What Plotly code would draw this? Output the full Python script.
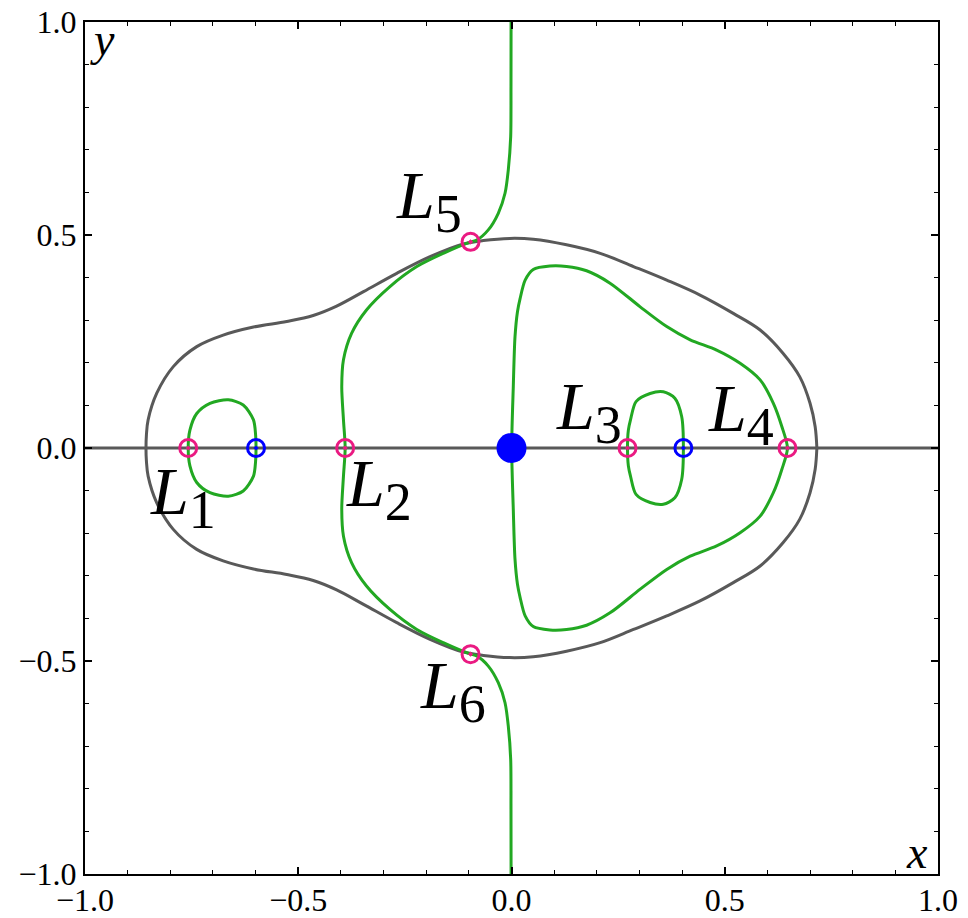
import plotly.graph_objects as go

# ---- data ----
# outer gray zero-velocity curve, upper half (left -> right) and lower half (right -> left)
gray_upper_x = [-0.857, -0.856, -0.852, -0.832, -0.793, -0.738, -0.676, -0.605, -0.527, -0.465, -0.410, -0.347,
                -0.269, -0.191, -0.113, -0.066, -0.004, 0.051, 0.129, 0.208, 0.286, 0.364, 0.442, 0.520,
                0.583, 0.637, 0.676, 0.700, 0.712, 0.716]
gray_upper_y = [0.0, 0.031, 0.066, 0.128, 0.191, 0.238, 0.265, 0.284, 0.297, 0.311, 0.333, 0.367,
                0.410, 0.449, 0.479, 0.487, 0.492, 0.490, 0.477, 0.457, 0.426, 0.394, 0.359, 0.316,
                0.277, 0.222, 0.167, 0.105, 0.050, 0.0]
gray_lower_x = [0.716, 0.712, 0.700, 0.676, 0.637, 0.583, 0.520, 0.442, 0.364, 0.286, 0.208, 0.129, 0.051,
                -0.004, -0.066, -0.113, -0.191, -0.269, -0.347, -0.410, -0.465, -0.527, -0.605, -0.676,
                -0.738, -0.793, -0.832, -0.852, -0.856, -0.857]
gray_lower_y = [0.0, -0.050, -0.105, -0.167, -0.222, -0.277, -0.316, -0.359, -0.394, -0.426, -0.457, -0.477,
                -0.490, -0.492, -0.487, -0.479, -0.449, -0.410, -0.367, -0.333, -0.311, -0.297, -0.284,
                -0.265, -0.238, -0.191, -0.128, -0.066, -0.031, 0.0]

# green curve through L5, L2, L6 (top -> bottom)
green_outer_x = [-0.001, -0.0012, -0.0019, -0.0075, -0.0152, -0.031, -0.0544, -0.0816, -0.0957, -0.160,
                 -0.222, -0.285, -0.340, -0.375, -0.394, -0.398, -0.394, -0.390,
                 -0.394, -0.398, -0.394, -0.375, -0.340, -0.285, -0.222, -0.160, -0.0957, -0.0816,
                 -0.0544, -0.031, -0.0152, -0.0075, -0.0019, -0.0012, -0.001]
green_outer_y = [1.0, 0.848, 0.731, 0.653, 0.598, 0.551, 0.512, 0.488, 0.484, 0.457,
                 0.426, 0.379, 0.324, 0.269, 0.207, 0.144, 0.066, 0.0,
                 -0.066, -0.144, -0.207, -0.269, -0.324, -0.379, -0.426, -0.457, -0.484, -0.488,
                 -0.512, -0.551, -0.598, -0.653, -0.731, -0.848, -1.0]

# green closed curve through the origin and L4
green_inner_x = [0.0005, 0.0042, 0.0082, 0.014, 0.020, 0.032, 0.051, 0.090, 0.129, 0.176, 0.231, 0.301,
                 0.364, 0.419, 0.481, 0.536, 0.583, 0.614, 0.634, 0.647,
                 0.634, 0.614, 0.583, 0.536, 0.481, 0.419, 0.364, 0.301, 0.231, 0.176, 0.129, 0.090,
                 0.051, 0.032, 0.020, 0.014, 0.0082, 0.0042, 0.0005]
green_inner_y = [0.0, 0.144, 0.261, 0.320, 0.350, 0.394, 0.419, 0.427, 0.426, 0.416, 0.387, 0.332,
                 0.285, 0.254, 0.230, 0.199, 0.160, 0.105, 0.050, 0.0,
                 -0.050, -0.105, -0.160, -0.199, -0.230, -0.254, -0.285, -0.332, -0.387, -0.416, -0.426,
                 -0.427, -0.419, -0.394, -0.350, -0.320, -0.261, -0.144, 0.0]

# small loop between L1 and the first primary
loop1_x = [-0.758, -0.754, -0.738, -0.707, -0.664, -0.629, -0.605, -0.600, -0.599,
           -0.600, -0.605, -0.629, -0.664, -0.707, -0.738, -0.754, -0.758]
loop1_y = [0.0, 0.042, 0.081, 0.105, 0.113, 0.101, 0.066, 0.031, 0.0,
           -0.031, -0.066, -0.101, -0.113, -0.105, -0.081, -0.042, 0.0]

# small loop between L3 and the second primary
loop3_x = [0.272, 0.274, 0.279, 0.292, 0.325, 0.356, 0.383, 0.399, 0.403,
           0.399, 0.383, 0.356, 0.325, 0.292, 0.279, 0.274, 0.272]
loop3_y = [0.0, 0.042, 0.066, 0.109, 0.128, 0.132, 0.117, 0.074, 0.0,
           -0.074, -0.117, -0.132, -0.128, -0.109, -0.066, -0.042, 0.0]

# equilibrium points and primaries
lagrange_names = ["L1", "L2", "L3", "L4", "L5", "L6"]
lagrange_x = [-0.758, -0.390, 0.272, 0.647, -0.096, -0.096]
lagrange_y = [0.0, 0.0, 0.0, 0.0, 0.484, -0.484]
primary_x = [-0.599, 0.403]
primary_y = [0.0, 0.0]
center_x = [0.0]
center_y = [0.0]
axis_line_x = [-1.0, 1.0]
axis_line_y = [0.0, 0.0]

tick_vals = [-1.0, -0.5, 0.0, 0.5, 1.0]
tick_text = ["\u22121.0", "\u22120.5", "0.0", "0.5", "1.0"]

# label anchor positions (data coords, left/middle)
label_x = [-0.852, -0.392, 0.100, 0.457, -0.275, -0.219]
label_y = [-0.115, -0.096, 0.085, 0.082, 0.580, -0.570]

GRAY = "#595959"
GREEN = "#22a822"
PINK = "#ea1a82"
BLUE = "#0000ff"
FONT = "Liberation Serif, Times New Roman, Times, serif"

fig = go.Figure()
fig.add_trace(go.Scatter(x=axis_line_x, y=axis_line_y, mode="lines",
                         line=dict(color=GRAY, width=3), hoverinfo="skip"))
fig.add_trace(go.Scatter(x=gray_upper_x + gray_lower_x, y=gray_upper_y + gray_lower_y, mode="lines",
                         line=dict(color=GRAY, width=3, shape="spline", smoothing=1.0)))
for cx, cy in [(green_outer_x, green_outer_y), (green_inner_x, green_inner_y),
               (loop1_x, loop1_y), (loop3_x, loop3_y)]:
    fig.add_trace(go.Scatter(x=cx, y=cy, mode="lines",
                             line=dict(color=GREEN, width=3, shape="spline", smoothing=0.8)))
fig.add_trace(go.Scatter(x=center_x, y=center_y, mode="markers",
                         marker=dict(color=BLUE, size=30, symbol="circle", line=dict(width=0))))
fig.add_trace(go.Scatter(x=primary_x, y=primary_y, mode="markers",
                         marker=dict(color=BLUE, size=17, symbol="circle-open-dot", line=dict(width=3))))
fig.add_trace(go.Scatter(x=lagrange_x, y=lagrange_y, mode="markers", text=lagrange_names,
                         marker=dict(color=PINK, size=17, symbol="circle-open-dot", line=dict(width=3))))

for name, lx, ly in zip(lagrange_names, label_x, label_y):
    fig.add_annotation(x=lx, y=ly, xref="x", yref="y", showarrow=False,
                       text="<i>L</i><sub><span style='font-size:54px'>" + name[1:] + "</span></sub>",
                       xanchor="left", yanchor="middle",
                       font=dict(family=FONT, size=68, color="black"))

fig.add_annotation(x=-0.96, y=0.96, xref="x", yref="y", showarrow=False, text="<i>y</i>",
                   xanchor="center", yanchor="middle", font=dict(family=FONT, size=46, color="black"))
fig.add_annotation(x=0.95, y=-0.95, xref="x", yref="y", showarrow=False, text="<i>x</i>",
                   xanchor="center", yanchor="middle", font=dict(family=FONT, size=46, color="black"))

axis_common = dict(range=[-1, 1], tickvals=tick_vals, ticktext=tick_text, ticks="inside", ticklen=7,
                   tickwidth=1.5, tickcolor="black", showline=True, linecolor="black", linewidth=2,
                   mirror="ticks", showgrid=False, zeroline=False, automargin=False,
                   tickfont=dict(family=FONT, size=32, color="black"),
                   minor=dict(dtick=0.1, tick0=0, ticks="inside", ticklen=4, tickwidth=1.2,
                              tickcolor="black", showgrid=False))

fig.update_layout(width=968, height=918, margin=dict(l=85, r=30, t=22, b=44, autoexpand=False),
                  paper_bgcolor="white", plot_bgcolor="white", showlegend=False,
                  xaxis=axis_common, yaxis=axis_common)
fig.update_xaxes(ticklabelstandoff=-3)

fig.write_html("out.html", config={"displayModeBar": False},
               post_script="document.body.style.margin='0';")
